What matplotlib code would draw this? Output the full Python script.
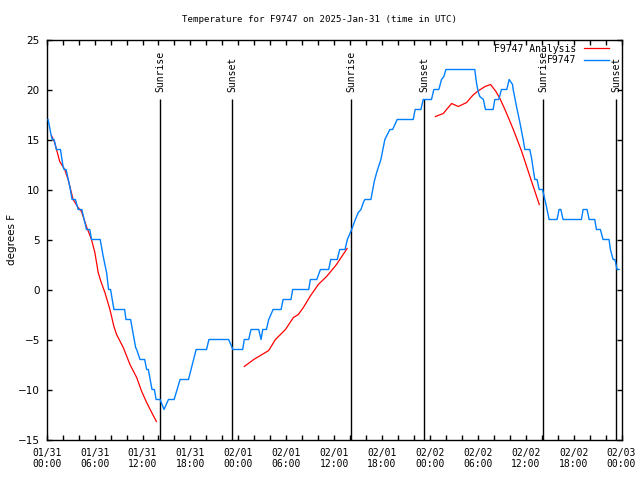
import matplotlib
matplotlib.use("Agg")
import matplotlib.pyplot as plt
import numpy as np

# hours since 2025-01-31 00:00 UTC
obs_hours = [0.17, 0.59, 0.71, 0.92, 1.21, 1.72, 2.05, 2.18, 2.43, 2.89, 3.18, 3.60, 3.94, 4.40,
             4.98, 5.40, 5.61, 6.70, 7.08, 7.50, 7.75, 8.00, 8.42, 9.76, 9.93, 10.51, 11.14, 11.27,
             11.69, 12.27, 12.52, 12.73, 13.19, 13.49, 13.70, 14.20, 14.70, 15.25, 15.96, 16.71,
             17.76, 18.72, 20.02, 20.32, 22.79, 23.33, 24.55, 24.75, 25.30, 25.59, 26.56, 26.85,
             27.06, 27.52, 27.81, 28.36, 29.36, 29.61, 30.60, 30.81, 32.82, 33.03, 33.83, 34.29,
             35.32, 35.58, 36.40, 36.70, 37.37, 37.66, 38.20, 38.66, 39.03, 39.37, 39.66, 39.86,
             40.61, 41.03, 41.33, 41.86, 42.36, 42.99, 43.33, 43.90, 45.91, 46.15, 46.87, 47.16,
             48.20, 48.49, 49.12, 49.45, 49.75, 50.00, 53.62, 53.83, 54.04, 54.25, 54.70, 54.96,
             55.92, 56.13, 56.63, 56.96, 57.63, 57.93, 58.35, 58.43, 58.85, 59.27, 59.68, 59.89,
             60.51, 60.72, 61.14, 61.42, 61.69, 62.11, 62.60, 62.93, 63.93, 64.18, 64.40, 64.68,
             66.98, 67.19, 67.69, 67.94, 68.65, 68.86, 69.35, 69.69, 70.44, 70.61, 70.95, 71.18,
             71.45, 71.70]
obs_temps = [17, 15.3, 15, 15, 14, 14, 12.3, 12, 12, 10.3, 9, 9, 8, 8,
             6, 6, 5, 5, 3.3, 1.7, 0, 0, -2, -2, -3, -3, -5.8, -6,
             -7, -7, -8, -8, -10, -10, -11, -11, -12, -11, -11, -9,
             -9, -6, -6, -5, -5, -6, -6, -5, -5, -4, -4, -5,
             -4, -4, -3, -2, -2, -1, -1, 0, 0, 1, 1, 2,
             2, 3, 3, 4, 4, 5, 6, 7, 7.7, 8, 8.7, 9,
             9, 10.8, 11.7, 13, 15, 16, 16, 17, 17, 18, 18, 19,
             19, 20, 20, 21, 21.3, 22, 22, 20.7, 19.8, 19.3, 19, 18,
             18, 19, 19, 20, 20, 21, 20.5, 20, 18.3, 16.7, 15, 14,
             14, 13.2, 11, 11, 10, 10, 8.3, 7, 7, 8, 8, 7,
             7, 8, 8, 7, 7, 6, 6, 5, 5, 4, 3, 3,
             2, 2]

ana_hours = [0.59, 1.00, 1.63, 2.26, 2.68, 3.31, 3.94, 4.36, 4.98, 5.61, 6.03, 6.45, 6.79, 7.29,
             7.92, 8.42, 8.75, 9.59, 10.43, 11.27, 11.90, 12.52, 13.15, 13.74, np.nan,
             24.75, 25.93, 27.18, 27.81, 28.65, 29.91, 30.90, 31.52, 32.15, 32.98, 34.02, 35.06,
             36.30, 37.63, np.nan,
             48.70, 49.67, 50.09, 50.72, 51.56, 52.60, 53.35, 53.94, 54.90, 55.60, 56.27, 56.77,
             57.40, 58.45, 59.50, 60.53, 61.70]
ana_temps = [15.4, 14.7, 12.8, 12, 11, 9, 8.2, 7.8, 6.3, 5, 3.7, 1.7, 0.8, -0.3,
             -2, -3.7, -4.5, -5.8, -7.5, -8.8, -10.2, -11.3, -12.3, -13.2, np.nan,
             -7.7, -7, -6.4, -6.1, -5, -4, -2.8, -2.5, -1.8, -0.7, 0.5, 1.3,
             2.5, 4.1, np.nan,
             17.3, 17.6, 18, 18.6, 18.3, 18.7, 19.4, 19.8, 20.3, 20.5, 19.8, 19.1,
             18, 16, 13.8, 11.3, 8.5]

sunrise_hours = [14.22, 38.14, 62.18]
sunset_hours = [23.24, 47.28, 71.37]

tick_hours = list(range(0, 73, 6))
tick_labels = ["01/31\n00:00", "01/31\n06:00", "01/31\n12:00", "01/31\n18:00",
               "02/01\n00:00", "02/01\n06:00", "02/01\n12:00", "02/01\n18:00",
               "02/02\n00:00", "02/02\n06:00", "02/02\n12:00", "02/02\n18:00",
               "02/03\n00:00"]

mono = "DejaVu Sans Mono"

fig = plt.figure(figsize=(6.4, 4.8), dpi=100)
ax = fig.add_axes([46.7 / 640, 40.5 / 480, 574.8 / 640, 400 / 480])

# sunrise / sunset markers
ax.vlines(sunrise_hours + sunset_hours, -15, 19.1, color="black", lw=1.0, zorder=1)
for h in sunrise_hours:
    ax.text(h, 19.7, "Sunrise", rotation=90, ha="center", va="bottom",
            family=mono, fontsize=7)
for h in sunset_hours:
    ax.text(h, 19.7, "Sunset", rotation=90, ha="center", va="bottom",
            family=mono, fontsize=7)

ax.plot(ana_hours, ana_temps, color="#ff0000", lw=0.9, label="F9747 Analysis", zorder=2)
ax.plot(obs_hours, obs_temps, color="#0080ff", lw=1.0, label="F9747", zorder=3)

ax.set_xlim(0, 72)
ax.set_ylim(-15, 25)
ax.set_xticks(tick_hours)
ax.set_xticklabels(tick_labels, family=mono, fontsize=7)
ax.set_xticks(range(0, 73, 2), minor=True)
ax.set_yticks(range(-15, 26, 5))
ax.tick_params(which="both", direction="in", top=True, right=True, length=3.5, width=1)
ax.tick_params(axis="x", pad=6)
ax.tick_params(axis="y", pad=5, labelsize=7.5)
for s in ax.spines.values():
    s.set_linewidth(1)

ax.set_ylabel("degrees F", fontsize=7.5)
ax.yaxis.set_label_coords(-0.052, 0.5)
fig.text(0.5, 1 - 19 / 480, "Temperature for F9747 on 2025-Jan-31 (time in UTC)",
         family=mono, fontsize=6.6, ha="center", va="center")

leg = ax.legend(loc="upper right", bbox_to_anchor=(0.978, 0.99), frameon=False,
                markerfirst=False, handlelength=2.6, handletextpad=0.75,
                labelspacing=0.2, borderpad=0, borderaxespad=0,
                prop={"family": mono, "size": 7})

fig.savefig("out.png", dpi=100)
